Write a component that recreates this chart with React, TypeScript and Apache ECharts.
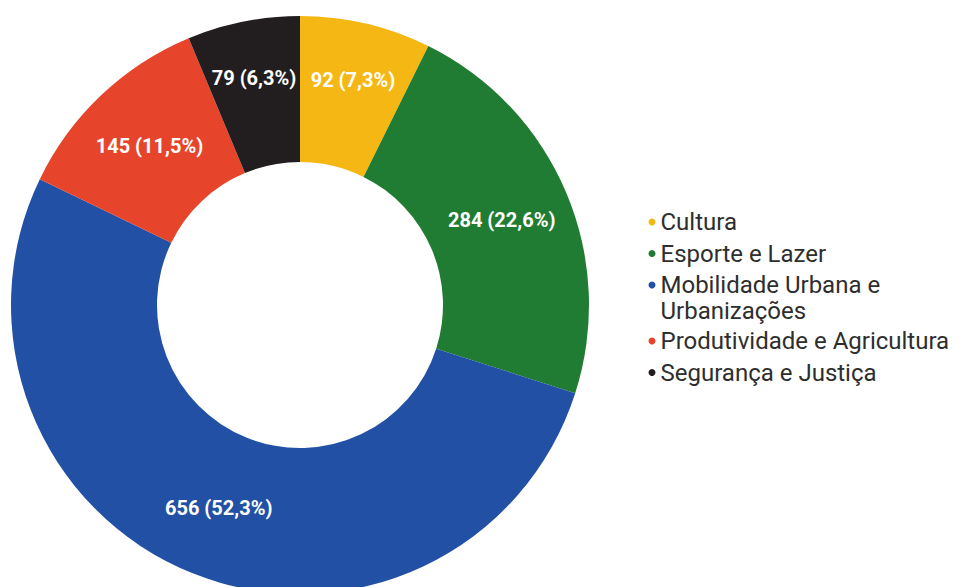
import React, { useEffect, useRef } from "react";
import * as echarts from "echarts";

const categories = [
  "Cultura",
  "Esporte e Lazer",
  "Mobilidade Urbana e Urbanizações",
  "Produtividade e Agricultura",
  "Segurança e Justiça",
];
const values = [92, 284, 656, 145, 79];
const percentLabels = ["7,3", "22,6", "52,3", "11,5", "6,3"];
const colors = ["#F5B713", "#217C33", "#2150A4", "#E6452B", "#221E1F"];
// legend text of the two-line item
const wrappedName = "Mobilidade Urbana e Urbanizações";
const wrappedLines = ["Mobilidade Urbana e", "Urbanizações"];

const FONT = "Roboto, sans-serif";
const LEGEND_FS = 24;

export default function App() {
  const ref = useRef<HTMLDivElement>(null);
  useEffect(() => {
    if (!ref.current) return;
    const chart = echarts.init(ref.current, undefined, { renderer: "svg" });
    const legendText = {
      fontFamily: FONT,
      fontSize: LEGEND_FS,
      color: "#2e2e2e",
      lineHeight: 25,
    };
    const legendCommon = {
      orient: "vertical" as const,
      left: 648.5,
      icon: "circle",
      itemWidth: 7,
      itemHeight: 7,
      itemGap: 6.5,
      padding: 0,
      selectedMode: false,
      textStyle: legendText,
      formatter: (name: string) => (name === wrappedName ? wrappedLines[0] : name),
    };
    chart.setOption({
      animation: false,
      backgroundColor: "#ffffff",
      color: colors,
      legend: [
        { ...legendCommon, top: 209.5, data: categories.slice(0, 3) },
        { ...legendCommon, top: 328.5, data: categories.slice(3) },
      ],
      graphic: [
        {
          type: "text",
          left: 660.5,
          top: 298.5,
          style: {
            text: wrappedLines[1],
            fontFamily: FONT,
            fontSize: LEGEND_FS,
            fill: "#2e2e2e",
            lineHeight: 25,
          },
        },
      ],
      series: [
        {
          type: "pie",
          center: [300, 305],
          radius: [143, 289],
          startAngle: 90,
          clockwise: true,
          avoidLabelOverlap: false,
          label: {
            show: true,
            position: "inside",
            color: "#ffffff",
            fontFamily: FONT,
            fontWeight: "bold",
            fontSize: 20,
            formatter: (p: any) => `${p.value} (${percentLabels[p.dataIndex]}%)`,
          },
          labelLayout: (p: any) => {
            if (p.dataIndex === 0) return { dx: 3, dy: -12 };
            if (p.dataIndex === 4) return { dx: -3, dy: -12 };
            return {};
          },
          labelLine: { show: false },
          emphasis: { disabled: true },
          data: categories.map((name, i) => ({
            name,
            value: values[i],
            itemStyle: { color: colors[i] },
          })),
        },
      ],
    });
    return () => chart.dispose();
  }, []);
  return (
    <div
      ref={ref}
      style={{ position: "absolute", left: 0, top: 0, width: 962, height: 587 }}
    />
  );
}
